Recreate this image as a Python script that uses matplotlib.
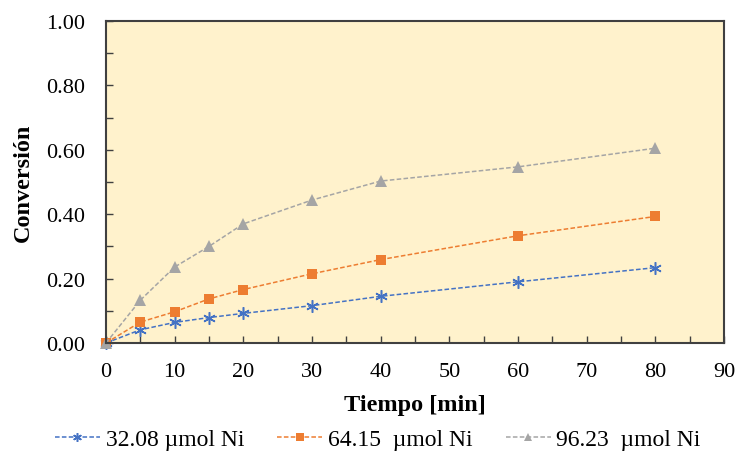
import matplotlib
matplotlib.use("Agg")
import matplotlib.pyplot as plt
from matplotlib.ticker import MultipleLocator, FormatStrFormatter

plt.rcParams['font.family'] = ['Liberation Serif', 'DejaVu Serif']

tiempo = [0, 5, 10, 15, 20, 30, 40, 60, 80]
conv_32 = [0.0, 0.041, 0.064, 0.079, 0.092, 0.116, 0.145, 0.190, 0.234]
conv_64 = [0.0, 0.065, 0.097, 0.137, 0.166, 0.215, 0.259, 0.333, 0.393]
conv_96 = [0.0, 0.133, 0.236, 0.300, 0.370, 0.444, 0.503, 0.547, 0.605]
labels = ["32.08 µmol Ni", "64.15  µmol Ni", "96.23  µmol Ni"]

fig = plt.figure(figsize=(7.39, 4.52), dpi=100)
ax = fig.add_axes([106/739, 1-344/452, (724-106)/739, (344-22)/452])
ax.set_facecolor('#FFF2CC')

dash = (0, (3, 1.5))
ax.plot(tiempo, conv_32, color='#4472C4', linestyle=dash, linewidth=1.1,
        marker=(6, 2, 0), markersize=9, markeredgewidth=1.1, label=labels[0], clip_on=False)
ax.plot(tiempo, conv_64, color='#ED7D31', linestyle=dash, linewidth=1.1,
        marker='s', markersize=7.5, markeredgewidth=0, label=labels[1], clip_on=False)
ax.plot(tiempo, conv_96, color='#A5A5A5', linestyle=dash, linewidth=1.1,
        marker='^', markersize=8, markeredgewidth=0, label=labels[2], clip_on=False)

ax.set_xlim(0, 90)
ax.set_ylim(0, 1.0)
ax.xaxis.set_major_locator(MultipleLocator(10))
ax.xaxis.set_minor_locator(MultipleLocator(5))
ax.yaxis.set_major_locator(MultipleLocator(0.2))
ax.yaxis.set_minor_locator(MultipleLocator(0.1))
ax.yaxis.set_major_formatter(FormatStrFormatter('%.2f'))
ax.tick_params(which='both', direction='in', length=5, width=1, color='#404040',
               labelsize=16, top=False, right=False)
ax.tick_params(axis='x', which='both', pad=14)
ax.tick_params(axis='y', which='both', pad=15)
for s in ax.spines.values():
    s.set_color('#404040')
    s.set_linewidth(1.5)

ax.set_xlabel('Tiempo [min]', fontsize=17.5, fontweight='bold', labelpad=9)
ax.set_ylabel('Conversión', fontsize=17.5, fontweight='bold', labelpad=9)

ax.legend(loc='center', bbox_to_anchor=(0.44, -0.300), ncol=3, frameon=False,
          fontsize=17, handlelength=1.9, columnspacing=1.4, handletextpad=0.25,
          markerscale=0.7, borderpad=0, borderaxespad=0)

fig.savefig('out.png', dpi=100)
